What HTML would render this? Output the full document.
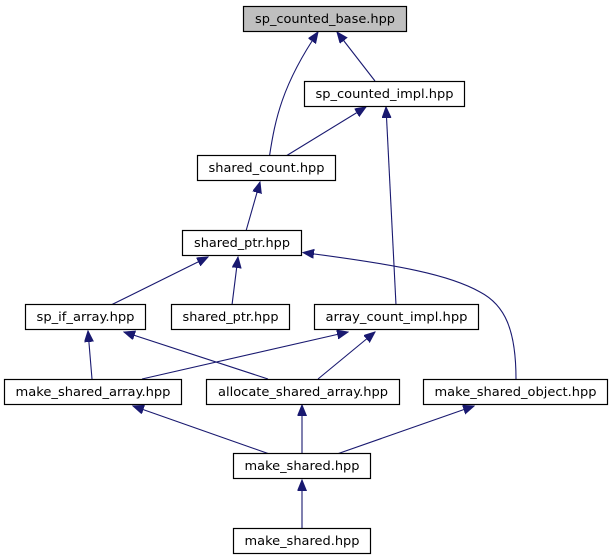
<!DOCTYPE html>
<html><head><meta charset="utf-8"><style>html,body{margin:0;padding:0;background:#fff}svg{display:block}</style></head><body>
<svg width="611" height="560" viewBox="0 0 611 560" xmlns="http://www.w3.org/2000/svg" font-family="'DejaVu Sans','Liberation Sans',sans-serif" font-size="12">
<defs><marker id="a" markerUnits="userSpaceOnUse" markerWidth="12" markerHeight="10" refX="11" refY="4.5" orient="auto"><path d="M0,0 L11,4.5 L0,9 Z" fill="#191970" stroke="#191970"/></marker></defs>
<g fill="none" stroke="#191970" stroke-width="1.1" marker-end="url(#a)">
<path d="M269.5,156 C275,120 282,85 318,32"/>
<path d="M375,81 L337,32"/>
<path d="M286,156 L366,107"/>
<path d="M396,305 L386,107"/>
<path d="M246,231 L260,182"/>
<path d="M111,305 L208,257"/>
<path d="M232,305 L238,257"/>
<path d="M516,379 C516,330 505,305 480,292 C450,275 400,265 303,252.5"/>
<path d="M92,379 L88,331"/>
<path d="M268,379 L124,332"/>
<path d="M142,379 L348,332"/>
<path d="M318,379 L375,332"/>
<path d="M269.5,454 L133,406"/>
<path d="M302,454 L302,405"/>
<path d="M337,454 L474,406"/>
<path d="M302,529 L302,480"/>
</g>
<g stroke="#000" stroke-width="1.2">
<rect x="243.5" y="6.5" width="163" height="25" fill="#bfbfbf"/>
<rect x="304.5" y="81.5" width="160" height="25" fill="#fff"/>
<rect x="197.5" y="155.5" width="138" height="25" fill="#fff"/>
<rect x="182.5" y="230.5" width="119" height="25" fill="#fff"/>
<rect x="25.5" y="304.5" width="120" height="25" fill="#fff"/>
<rect x="171.5" y="304.5" width="118" height="25" fill="#fff"/>
<rect x="314.5" y="304.5" width="164" height="25" fill="#fff"/>
<rect x="4.5" y="379.5" width="177" height="25" fill="#fff"/>
<rect x="206.5" y="379.5" width="193" height="25" fill="#fff"/>
<rect x="423.5" y="379.5" width="184" height="25" fill="#fff"/>
<rect x="233.5" y="453.5" width="137" height="25" fill="#fff"/>
<rect x="233.5" y="528.5" width="137" height="25" fill="#fff"/>
</g>
<g fill="#000" text-anchor="middle" lengthAdjust="spacingAndGlyphs">
<text x="325" y="23" textLength="140" lengthAdjust="spacingAndGlyphs">sp_counted_base.hpp</text>
<text x="384.5" y="98" textLength="138" lengthAdjust="spacingAndGlyphs">sp_counted_impl.hpp</text>
<text x="266.5" y="172" textLength="116" lengthAdjust="spacingAndGlyphs">shared_count.hpp</text>
<text x="242" y="247" textLength="96" lengthAdjust="spacingAndGlyphs">shared_ptr.hpp</text>
<text x="85.5" y="321" textLength="98" lengthAdjust="spacingAndGlyphs">sp_if_array.hpp</text>
<text x="230.5" y="321" textLength="96" lengthAdjust="spacingAndGlyphs">shared_ptr.hpp</text>
<text x="396.5" y="321" textLength="142" lengthAdjust="spacingAndGlyphs">array_count_impl.hpp</text>
<text x="93" y="396" textLength="155" lengthAdjust="spacingAndGlyphs">make_shared_array.hpp</text>
<text x="303" y="396" textLength="170" lengthAdjust="spacingAndGlyphs">allocate_shared_array.hpp</text>
<text x="515.5" y="396" textLength="162" lengthAdjust="spacingAndGlyphs">make_shared_object.hpp</text>
<text x="302" y="470" textLength="115" lengthAdjust="spacingAndGlyphs">make_shared.hpp</text>
<text x="302" y="545" textLength="115" lengthAdjust="spacingAndGlyphs">make_shared.hpp</text>
</g>
</svg>
</body></html>
